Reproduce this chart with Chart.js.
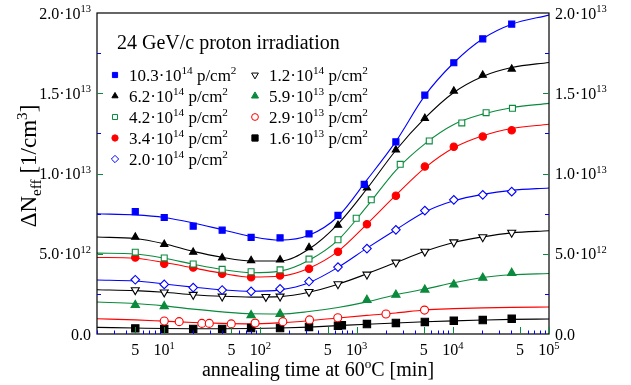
<!DOCTYPE html>
<html><head><meta charset="utf-8">
<script src="https://cdn.jsdelivr.net/npm/chart.js@4/dist/chart.umd.min.js"></script>
<style>html,body{margin:0;padding:0;background:#fff;}canvas{display:block;}</style>
</head><body>
<canvas id="c" width="631" height="385"></canvas>
<script>
// ---- data (values in units of 1e12 cm^-3, times in minutes) ----
const UNIT = 1e12;
const GREEN = '#0a8a3c';

const seriesNames = ['10.3e14','6.2e14','4.2e14','3.4e14','2.0e14','1.2e14','5.9e13','2.9e13','1.6e13'];

// measured points
const t_103 = [5,10,20,40,80,160,320,640,1200,2560,5120,10240,20480,40960];
const n_103 = [7.63,7.26,6.72,6.47,6.02,5.99,6.24,7.39,9.32,11.97,14.88,16.90,18.39,19.31];
const t_62  = [5,10,20,40,80,160,320,640,1280,2560,5120,10240,20480,40960];
const n_62  = [6.04,5.59,5.10,4.75,4.58,4.62,5.39,6.78,9.10,11.47,13.44,15.14,16.13,16.51];
const t_42  = [5,10,20,40,80,160,320,640,990,1420,2840,5690,12400,22200,41700];
const n_42  = [5.10,4.74,4.36,4.03,3.88,4.00,4.67,5.87,7.21,8.36,10.57,12.03,13.15,13.79,14.06];
const t_34  = [5,10,20,40,80,160,320,640,1280,2560,5120,10240,20480,40960];
const n_34  = [4.77,4.37,4.14,3.75,3.53,3.65,4.06,5.12,6.84,8.62,10.43,11.67,12.30,12.69];
const t_20  = [5,10,20,40,80,160,320,640,1280,2560,5120,10240,20480,40960];
const n_20  = [3.38,3.09,2.89,2.74,2.66,2.81,3.27,4.17,5.32,6.49,7.69,8.36,8.67,8.87];
const t_12  = [5,10,20,40,114,160,320,640,1280,2560,5120,10240,20480,40960];
const n_12  = [2.74,2.60,2.45,2.34,2.32,2.34,2.63,3.11,3.71,4.46,5.14,5.72,6.04,6.32];
const t_59  = [5,10,80,160,1280,2560,5120,10240,20480,40960];
const n_59  = [1.80,1.73,1.17,1.25,2.12,2.44,2.76,3.08,3.50,3.80];
const t_29  = [10,14.3,24.6,29.4,49.7,88,171,324,637,2020,5080];
const n_29  = [0.81,0.77,0.66,0.66,0.63,0.68,0.77,0.88,1.01,1.25,1.49];
const t_16  = [5,10,20,40,80,160,320,640,702,1280,2560,5120,10240,20480,40960];
const n_16  = [0.35,0.32,0.32,0.32,0.37,0.37,0.44,0.52,0.54,0.62,0.69,0.75,0.83,0.87,0.95];

// fitted curves at these times
const fitT   = [2,5,10,20,40,80,160,320,640,1280,2560,5120,10240,20480,40960,100000];
const fit_103 = [7.49,7.42,7.26,6.92,6.50,6.08,5.85,6.15,7.32,9.60,12.0,14.85,16.9,18.4,19.3,19.87];
const fit_62  = [6.04,5.95,5.62,5.15,4.78,4.55,4.55,5.30,6.85,9.05,11.45,13.45,15.05,16.05,16.6,16.92];
const fit_42  = [5.04,4.98,4.72,4.35,4.02,3.82,3.92,4.60,5.85,7.95,10.2,11.85,13.05,13.7,14.1,14.37];
const fit_34  = [4.77,4.72,4.45,4.12,3.78,3.55,3.60,4.10,5.15,6.85,8.65,10.35,11.6,12.35,12.8,13.07];
const fit_20  = [3.36,3.30,3.12,2.92,2.75,2.66,2.75,3.20,4.15,5.35,6.50,7.60,8.30,8.70,8.95,9.10];
const fit_12  = [2.76,2.70,2.60,2.45,2.35,2.30,2.33,2.60,3.10,3.75,4.45,5.15,5.70,6.05,6.30,6.43];
const fit_59  = [1.99,1.90,1.75,1.55,1.38,1.26,1.25,1.40,1.65,2.00,2.45,2.80,3.19,3.52,3.69,3.77];
const fit_29  = [0.95,0.88,0.80,0.72,0.66,0.63,0.70,0.83,1.00,1.16,1.31,1.50,1.58,1.63,1.66,1.68];
const fit_16  = [0.41,0.37,0.34,0.33,0.33,0.34,0.37,0.43,0.52,0.61,0.69,0.76,0.82,0.87,0.91,0.93];

// legend text
const legendMant = ['10.3','6.2','4.2','3.4','2.0','1.2','5.9','2.9','1.6'];
const legendExp  = ['14','14','14','14','14','14','13','13','13'];
const titleText = '24 GeV/c proton irradiation';

// axis ticks
const yTickValues = [0,5,10,15,20];
const yTickMant = ['0.0','5.0','1.0','1.5','2.0'];
const yTickExp  = ['','12','13','13','13'];
const yMinorValues = [2.5,7.5,12.5,17.5];
const xLabelValues = [5,10,50,100,500,1000,5000,10000,50000,100000];
const xLabelBase = ['5','10','5','10','5','10','5','10','5','10'];
const xLabelExp  = ['','1','','2','','3','','4','','5'];

// ---- styles ----
const styles = [
  {ps:'rect', r:4.3, rot:0, fill:'#0000ff', stroke:'#0000ff', line:'#0000ff'},
  {ps:'triangle', r:4.2, rot:0, fill:'#000', stroke:'#000', line:'#000'},
  {ps:'rect', r:4.2, rot:0, fill:'#fff', stroke:GREEN, line:GREEN},
  {ps:'circle', r:3.7, rot:0, fill:'#ff0000', stroke:'#ff0000', line:'#ff0000'},
  {ps:'rectRot', r:4.3, rot:0, fill:'#fff', stroke:'#0000ff', line:'#0000ff'},
  {ps:'triangle', r:4.6, rot:180, fill:'#fff', stroke:'#000', line:'#000'},
  {ps:'triangle', r:4.8, rot:0, fill:GREEN, stroke:GREEN, line:GREEN},
  {ps:'circle', r:4.0, rot:0, fill:'#fff', stroke:'#ff0000', line:'#ff0000'},
  {ps:'rect', r:5.2, rot:0, fill:'#000', stroke:'#000', line:'#000'}
];
const pts = [[t_103,n_103],[t_62,n_62],[t_42,n_42],[t_34,n_34],[t_20,n_20],[t_12,n_12],[t_59,n_59],[t_29,n_29],[t_16,n_16]];
const fits = [fit_103,fit_62,fit_42,fit_34,fit_20,fit_12,fit_59,fit_29,fit_16];

const datasets = [];
fits.forEach((f,i)=>{
  datasets.push({
    label: 'fit ' + seriesNames[i],
    data: fitT.map((t,k)=>({x:t, y:f[k]*UNIT})),
    showLine:true, borderColor:styles[i].line, borderWidth:1.1,
    pointRadius:0, cubicInterpolationMode:'monotone', order:5
  });
});
pts.forEach((p,i)=>{
  const s = styles[i];
  datasets.push({
    label: seriesNames[i],
    data: p[0].map((t,k)=>({x:t, y:p[1][k]*UNIT})),
    showLine:false, pointStyle:s.ps, pointRadius:s.r, pointRotation:s.rot,
    pointBackgroundColor:s.fill, pointBorderColor:s.stroke, pointBorderWidth:1.1,
    order:1
  });
});

const FONT = '"Liberation Serif", "Times New Roman", serif';
function rich(ctx, parts, x, y, align, size){
  // parts: [text, mode] mode: 0 normal, 1 sup, -1 sub
  const small = size*0.66;
  let w = 0;
  parts.forEach(p=>{ ctx.font = (p[1]?small:size)+'px '+FONT; w += ctx.measureText(p[0]).width; });
  let cx = align==='right' ? x-w : align==='center' ? x-w/2 : x;
  ctx.textAlign='left'; ctx.textBaseline='alphabetic';
  parts.forEach(p=>{
    ctx.font = (p[1]?small:size)+'px '+FONT;
    const dy = p[1]===1 ? -size*0.40 : p[1]===-1 ? size*0.22 : 0;
    ctx.fillText(p[0], cx, y+dy);
    cx += ctx.measureText(p[0]).width;
  });
  return w;
}

const decor = {
  id:'decor',
  afterDraw(chart){
    const ctx = chart.ctx, a = chart.chartArea;
    const xs = chart.scales.x, ys = chart.scales.y;
    ctx.save();
    // frame
    ctx.strokeStyle='#000'; ctx.lineWidth=1.2;
    ctx.strokeRect(a.left, a.top, a.right-a.left, a.bottom-a.top);
    // x ticks
    ctx.lineWidth=1;
    for(let d=0; d<=5; d++){
      for(let m=1; m<=9; m++){
        const v = m*Math.pow(10,d);
        if(v<2 || v>100000) continue;
        const px = Math.round(xs.getPixelForValue(v))+0.5;
        const major = (m===1||m===5);
        ctx.strokeStyle = major?GREEN:'#0000ff';
        ctx.beginPath(); ctx.moveTo(px,a.bottom); ctx.lineTo(px,a.bottom-(major?7:3.5)); ctx.stroke();
      }
    }
    // y ticks both sides
    const yt = (v,major)=>{
      const py = Math.round(ys.getPixelForValue(v*UNIT))+0.5;
      const L = major?6:4;
      ctx.strokeStyle = major?GREEN:'#0000ff';
      ctx.beginPath(); ctx.moveTo(a.left,py); ctx.lineTo(a.left+L,py);
      ctx.moveTo(a.right,py); ctx.lineTo(a.right-L,py); ctx.stroke();
    };
    yTickValues.forEach(v=>{ if(v>0 && v<20) yt(v,true); });
    yMinorValues.forEach(v=>yt(v,false));
    // y labels
    ctx.fillStyle='#000';
    yTickValues.forEach((v,i)=>{
      const py = ys.getPixelForValue(v*UNIT)+5.5;
      const parts = yTickExp[i] ? [[yTickMant[i]+'\u00b710',0],[yTickExp[i],1]] : [[yTickMant[i],0]];
      rich(ctx, parts, 91, py, 'right', 16);
      rich(ctx, parts, 555, py, 'left', 16);
    });
    // x labels
    xLabelValues.forEach((v,i)=>{
      const px = xs.getPixelForValue(v);
      const parts = xLabelExp[i] ? [[xLabelBase[i],0],[xLabelExp[i],1]] : [[xLabelBase[i],0]];
      rich(ctx, parts, px, 355, 'center', 16);
    });
    // axis titles
    rich(ctx, [['annealing time at 60',0],['o',1],['C [min]',0]], 318, 376, 'center', 20);
    ctx.save();
    ctx.translate(36, 166);
    ctx.rotate(-Math.PI/2);
    rich(ctx, [['\u0394N',0],['eff',-1],[' [1/cm',0],['3',1],[']',0]], 0, 0, 'center', 23);
    ctx.restore();
    // title
    ctx.font = '20px '+FONT; ctx.textAlign='left'; ctx.fillStyle='#000';
    ctx.fillText(titleText, 117, 49);
    // legend
    const colX = [115, 255], rowY = [75, 96, 117, 138, 159];
    legendMant.forEach((m,i)=>{
      const col = i<5?0:1, row = i<5?i:i-5;
      const s = styles[i];
      const mx = colX[col], my = rowY[row];
      ctx.fillStyle = s.fill; ctx.strokeStyle = s.stroke; ctx.lineWidth=1;
      Chart.helpers.drawPoint(ctx, {pointStyle:s.ps, radius:s.r*0.85, rotation:s.rot, borderWidth:1}, mx, my);
      ctx.fillStyle='#000';
      rich(ctx, [[m+'\u00b710',0],[legendExp[i],1],[' p/cm',0],['2',1]], mx+14, my+5.5, 'left', 17);
    });
    ctx.restore();
  }
};

new Chart(document.getElementById('c'), {
  type:'scatter',
  data:{datasets},
  options:{
    responsive:false, animation:false, devicePixelRatio:1,
    layout:{padding:{left:97, right:82, top:13, bottom:51}},
    plugins:{legend:{display:false}, tooltip:{enabled:false}},
    scales:{
      x:{type:'logarithmic', min:2, max:100000, display:false},
      y:{type:'linear', min:0, max:20*UNIT, display:false}
    }
  },
  plugins:[decor]
});
</script>
</body></html>
